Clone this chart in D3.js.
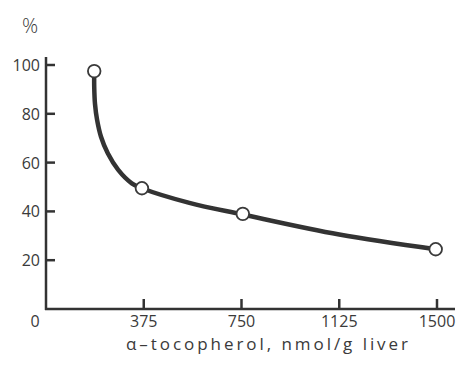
<!DOCTYPE html>
<html>
<head>
<meta charset="utf-8">
<title>alpha-tocopherol curve</title>
<style>
body, html {
  margin: 0;
  padding: 0;
  background: #fff;
}
.axis-line {
  stroke: #333;
  stroke-width: 2.5px;
  fill: none;
}
.tick-label {
  font-family: "Open Sans", sans-serif;
  font-size: 16px;
  fill: #3a3a3a;
}
.fit-line {
  fill: none;
  stroke: #333;
  stroke-width: 4.5px;
  stroke-linecap: round;
}
.point {
  fill: #fff;
  stroke: #3a3a3a;
  stroke-width: 1.8px;
}
</style>
<script src="https://d3js.org/d3.v7.min.js"></script>
</head>
<body>
<svg id="chart" width="463" height="365"></svg>
<script>
// measured points
var pointX = [185, 368, 755, 1495];
var pointY = [97.5, 49.5, 39, 24.5];

// fitted curve
var curveX = [185, 185, 188, 196, 211, 237, 277, 329, 368, 550, 755, 1125, 1495];
var curveY = [97, 91, 84, 77.5, 70.6, 63.8, 57, 51.5, 49.5, 43.5, 38.7, 30.5, 24.5];

var xTicks = [0, 375, 750, 1125, 1500];
var yTicks = [20, 40, 60, 80, 100];

var svg = d3.select("#chart");

var x = d3.scaleLinear().domain([0, 1500]).range([46, 437]);
var y = d3.scaleLinear().domain([0, 100]).range([309, 65]);

// axes lines
svg.append("line").attr("class", "axis-line")
  .attr("x1", x(0)).attr("x2", x(0))
  .attr("y1", 57).attr("y2", y(0) + 1);
svg.append("line").attr("class", "axis-line")
  .attr("x1", x(0) - 1).attr("x2", 455)
  .attr("y1", y(0)).attr("y2", y(0));

// y ticks, drawn inward
svg.selectAll(".ytick").data(yTicks).enter().append("line")
  .attr("class", "axis-line")
  .attr("x1", x(0)).attr("x2", x(0) + 9)
  .attr("y1", function(d) { return y(d); })
  .attr("y2", function(d) { return y(d); });

svg.selectAll(".ylab").data(yTicks).enter().append("text")
  .attr("class", "tick-label")
  .attr("text-anchor", "end")
  .attr("x", 40)
  .attr("y", function(d) { return y(d) + 6; })
  .text(function(d) { return d; });

// x ticks, drawn inward
svg.selectAll(".xtick").data(xTicks.slice(1)).enter().append("line")
  .attr("class", "axis-line")
  .attr("x1", function(d) { return x(d); })
  .attr("x2", function(d) { return x(d); })
  .attr("y1", y(0)).attr("y2", y(0) - 10);

svg.selectAll(".xlab").data(xTicks).enter().append("text")
  .attr("class", "tick-label")
  .attr("text-anchor", "middle")
  .attr("x", function(d, i) { return i === 0 ? 35 : x(d); })
  .attr("y", 327)
  .text(function(d) { return d; });

// axis titles
svg.append("text")
  .attr("class", "tick-label")
  .attr("x", 30).attr("y", 33)
  .attr("text-anchor", "middle")
  .style("font-size", "20px")
  .style("font-weight", 300)
  .text("%");

svg.append("text")
  .attr("class", "tick-label")
  .attr("x", 126).attr("y", 350)
  .attr("textLength", 282)
  .attr("lengthAdjust", "spacing")
  .style("font-size", "17px")
  .text("\u03b1\u2013tocopherol,  nmol/g  liver");

// curve
var line = d3.line()
  .x(function(d) { return x(d[0]); })
  .y(function(d) { return y(d[1]); })
  .curve(d3.curveCatmullRom.alpha(0.5));

svg.append("path")
  .datum(d3.zip(curveX, curveY))
  .attr("class", "fit-line")
  .attr("d", line);

svg.selectAll(".point").data(d3.zip(pointX, pointY)).enter().append("circle")
  .attr("class", "point")
  .attr("cx", function(d) { return x(d[0]); })
  .attr("cy", function(d) { return y(d[1]); })
  .attr("r", 6.3);
</script>
</body>
</html>
